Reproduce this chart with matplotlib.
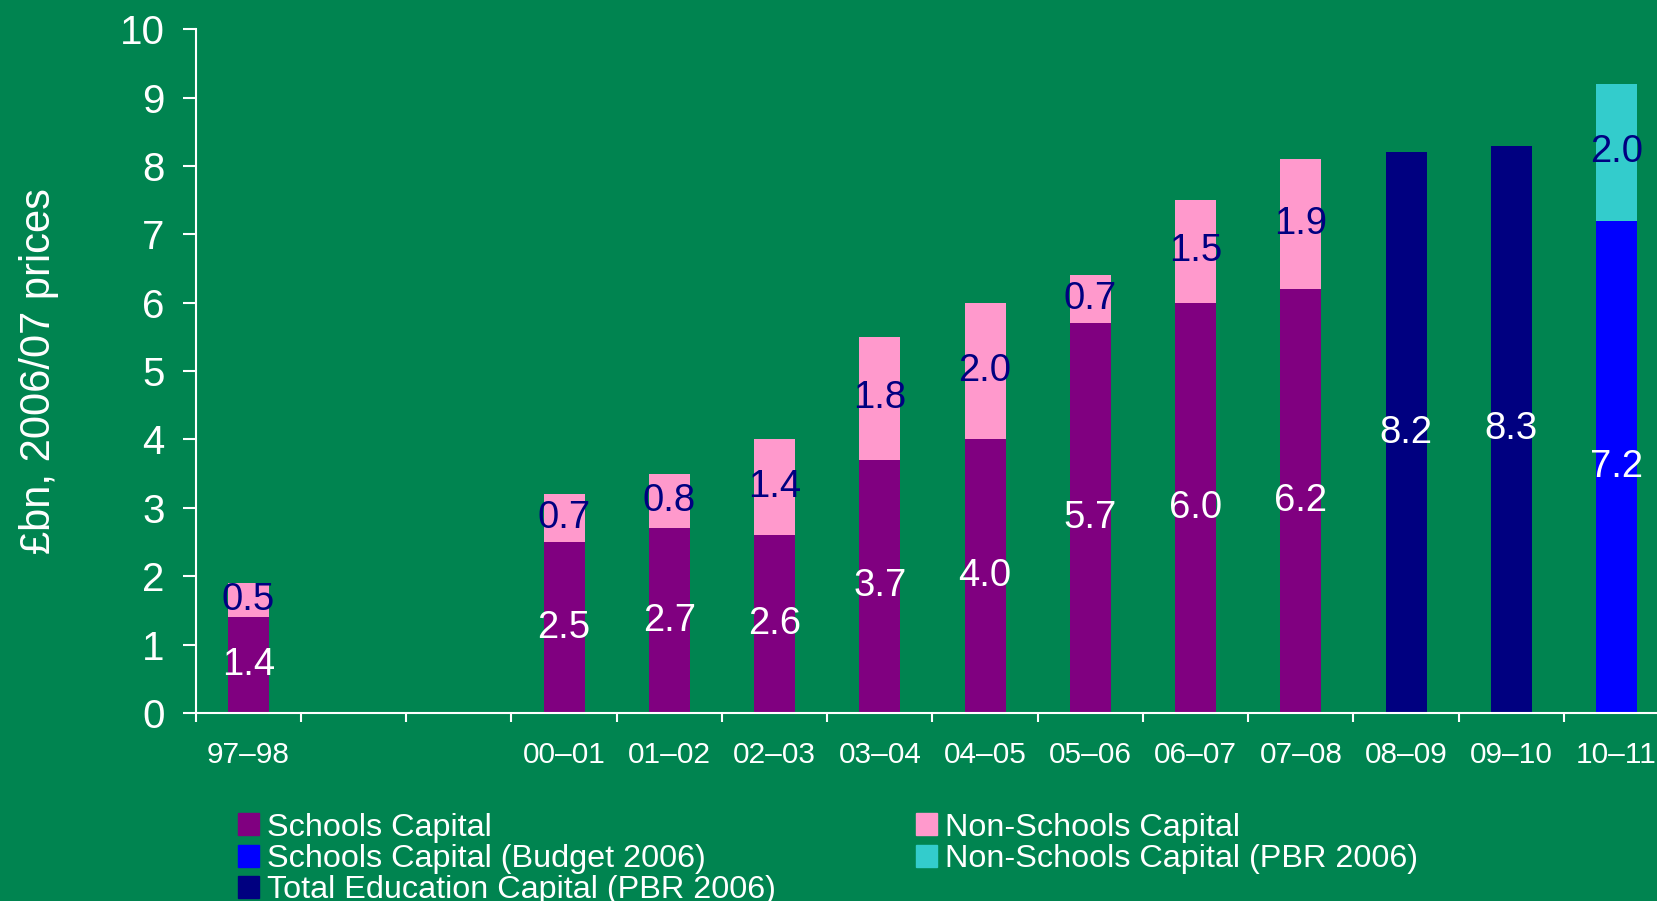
# education capital spending chart, 1997-98 to 2010-11
import numpy as np
import matplotlib
matplotlib.use("Agg")
import matplotlib.pyplot as plt
from matplotlib.patches import Patch

# data (£bn, 2006/07 prices)
years = ['97–98', '98–99', '99–00', '00–01', '01–02', '02–03', '03–04',
         '04–05', '05–06', '06–07', '07–08', '08–09', '09–10', '10–11']
tick_labels = ['97–98', '', '', '00–01', '01–02', '02–03', '03–04',
               '04–05', '05–06', '06–07', '07–08', '08–09', '09–10', '10–11']
nan = np.nan
schools = [1.4, nan, nan, 2.5, 2.7, 2.6, 3.7, 4.0, 5.7, 6.0, 6.2, nan, nan, nan]
non_schools = [0.5, nan, nan, 0.7, 0.8, 1.4, 1.8, 2.0, 0.7, 1.5, 1.9, nan, nan, nan]
schools_budget = [nan] * 13 + [7.2]
non_schools_pbr = [nan] * 13 + [2.0]
total_pbr = [nan] * 11 + [8.2, 8.3, nan]

bg = '#008450'
c_schools = '#800080'
c_non = '#FF99CC'
c_budget = '#0000FF'
c_non_pbr = '#33CCCC'
c_total = '#000080'

plt.rcParams['font.family'] = ['Liberation Sans', 'DejaVu Sans']

fig = plt.figure(figsize=(16.57, 9.01), dpi=100, facecolor=bg)
ax = fig.add_axes([0.1181, 0.2087, 0.8893, 0.7588])
ax.set_facecolor(bg)

x = np.arange(len(years))
w = 0.39

def labels(vals):
    return ['' if np.isnan(v) else f'{v:.1f}' for v in vals]

b1 = ax.bar(x, schools, w, color=c_schools)
b2 = ax.bar(x, non_schools, w, bottom=schools, color=c_non)
b3 = ax.bar(x, schools_budget, w, color=c_budget)
b4 = ax.bar(x, non_schools_pbr, w, bottom=schools_budget, color=c_non_pbr)
b5 = ax.bar(x, total_pbr, w, color=c_total)

ax.bar_label(b1, labels=labels(schools), label_type='center', color='white', fontsize=27.5)
ax.bar_label(b2, labels=labels(non_schools), label_type='center', color=c_total, fontsize=27.5)
ax.bar_label(b3, labels=labels(schools_budget), label_type='center', color='white', fontsize=27.5)
ax.bar_label(b4, labels=labels(non_schools_pbr), label_type='center', color=c_total, fontsize=27.5)
ax.bar_label(b5, labels=labels(total_pbr), label_type='center', color='white', fontsize=27.5)

# axes styling
ax.set_xlim(-0.5, len(years) - 0.5)
ax.set_ylim(0, 10)
ax.set_yticks(range(0, 11))
for s in ['top', 'right']:
    ax.spines[s].set_visible(False)
for s in ['left', 'bottom']:
    ax.spines[s].set_color('white')
    ax.spines[s].set_linewidth(1.5)

ax.tick_params(axis='y', colors='white', labelsize=29, length=9.4, width=1.5, pad=13)
ax.set_xticks(x)
ax.set_xticklabels(tick_labels)
ax.set_xticks(np.arange(-0.5, len(years)), minor=True)
ax.tick_params(axis='x', which='major', length=0, colors='white', labelsize=21.5, pad=20)
ax.tick_params(axis='x', which='minor', length=6.5, width=1.5, color='white')

ax.set_ylabel('£bn, 2006/07 prices', color='white', fontsize=30)
ax.yaxis.set_label_coords(-0.093, 0.5)

# legend in two columns
h1 = [Patch(color=c_schools, label='Schools Capital'),
      Patch(color=c_budget, label='Schools Capital (Budget 2006)'),
      Patch(color=c_total, label='Total Education Capital (PBR 2006)')]
h2 = [Patch(color=c_non, label='Non-Schools Capital'),
      Patch(color=c_non_pbr, label='Non-Schools Capital (PBR 2006)')]
leg_kw = dict(frameon=False, fontsize=23.3, borderpad=0, borderaxespad=0,
              handlelength=0.66, handleheight=0.66, handletextpad=0.25,
              labelspacing=0.04, labelcolor='white', loc='upper left')
fig.legend(handles=h1, bbox_to_anchor=(0.1435, 0.098), **leg_kw)
fig.legend(handles=h2, bbox_to_anchor=(0.5528, 0.098), **leg_kw)

fig.savefig('out.png', dpi=100, facecolor=bg)
